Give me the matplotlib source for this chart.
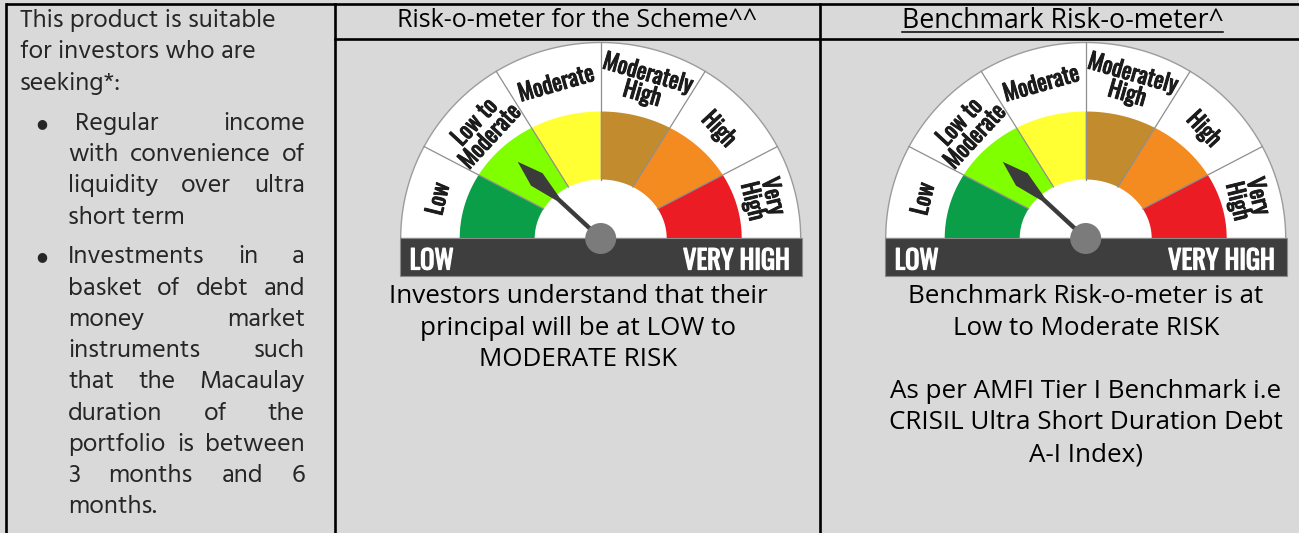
import numpy as np
import matplotlib
matplotlib.use("Agg")
import matplotlib.pyplot as plt
import matplotlib.patheffects as pe
from matplotlib.patches import Polygon, Circle, Rectangle

# ---------------- data ----------------
risk_levels = ["Low", "Low to Moderate", "Moderate", "Moderately High", "High", "Very High"]
risk_labels = ["Low", "Low to\nModerate", "Moderate", "Moderately\nHigh", "High", "Very\nHigh"]
segment_edges_deg = [180.0, 152.5, 122.0, 90.0, 58.0, 27.5, 0.0]
segment_colors = ["#0b9e48", "#80ff00", "#ffff33", "#c28b2e", "#f38b20", "#ec1c24"]
scheme_risk = "Low to Moderate"
benchmark_risk = "Low to Moderate"
scale_labels = ["LOW", "VERY HIGH"]

intro_lines = ["This product is suitable", "for investors who are", "seeking*:"]
bullet1_lines = [" Regular income", "with convenience of", "liquidity over ultra", "short term"]
bullet2_lines = ["Investments in a", "basket of debt and", "money market",
                 "instruments such", "that the Macaulay", "duration of the",
                 "portfolio is between", "3 months and 6", "months."]
scheme_header = "Risk-o-meter for the Scheme^^"
bench_header = "Benchmark Risk-o-meter^"
scheme_caption = ["Investors understand that their", "principal will be at LOW to", "MODERATE RISK"]
bench_caption = ["Benchmark Risk-o-meter is at", "Low to Moderate RISK", "",
                 "As per AMFI Tier I Benchmark i.e", "CRISIL Ultra Short Duration Debt",
                 "A-I Index)"]

# ---------------- figure ----------------
W, H = 1299, 533
BG = "#d9d9d9"
fig = plt.figure(figsize=(W / 100, H / 100), dpi=100)
fig.patch.set_facecolor(BG)
ax = fig.add_axes([0, 0, 1, 1])
ax.set_xlim(0, W)
ax.set_ylim(H, 0)
ax.axis("off")

NARROW = ["Oswald", "DejaVu Sans"]
LIGHT = ["Hind", "DejaVu Sans"]
BODY = ["Open Sans", "DejaVu Sans"]
LEFT_FS = 18.7
BODY_FS = 18.7

# table grid
LW = 1.9
ax.plot([6, W], [4, 4], color="black", lw=LW, solid_capstyle="butt")
ax.plot([6, 6], [4, H], color="black", lw=LW)
ax.plot([335, 335], [4, H], color="black", lw=LW)
ax.plot([820, 820], [4, H], color="black", lw=LW)
ax.plot([335, W], [38.5, 38.5], color="black", lw=LW)


def ell_r(a, b, t):
    return a * b / np.sqrt((b * np.cos(t)) ** 2 + (a * np.sin(t)) ** 2)


def pts(cx, cy, a, b, thetas):
    r = ell_r(a, b, thetas)
    return np.column_stack([cx + r * np.cos(thetas), cy - r * np.sin(thetas)])


def gauge(cx, cy, level):
    th = np.radians(np.linspace(0, 180, 200))
    outer = pts(cx, cy, 200, 196, th)
    ax.add_patch(Polygon(np.vstack([outer, [[cx - 200, cy], [cx + 200, cy]]]),
                         closed=True, facecolor="white", edgecolor="#9c9c9c",
                         lw=1.0, zorder=1))
    for i, col in enumerate(segment_colors):
        t = np.radians(np.linspace(segment_edges_deg[i], segment_edges_deg[i + 1], 60))
        o = pts(cx, cy, 141, 127, t)
        inn = pts(cx, cy, 66, 59, t[::-1])
        ax.add_patch(Polygon(np.vstack([o, inn]), closed=True, facecolor=col,
                             edgecolor="none", zorder=2))
    for e in segment_edges_deg[1:-1]:
        t = np.radians(e)
        r0 = ell_r(66, 59, t)
        r1 = ell_r(200, 196, t)
        ax.plot([cx + r0 * np.cos(t), cx + r1 * np.cos(t)],
                [cy - r0 * np.sin(t), cy - r1 * np.sin(t)],
                color="#8e8e8e", lw=0.9, zorder=3)
    lab_col = "#1c1c1c"
    for i, lab in enumerate(risk_labels):
        m = 0.5 * (segment_edges_deg[i] + segment_edges_deg[i + 1])
        t = np.radians(m)
        r = 167 if i in (0, 5) else 161
        ax.text(cx + r * np.cos(t), cy - r * np.sin(t), lab, rotation=m - 90,
                ha="center", va="center", rotation_mode="anchor",
                fontsize=16.5, family=NARROW, color=lab_col,
                linespacing=0.9, zorder=4,
                path_effects=[pe.withStroke(linewidth=0.7, foreground=lab_col)])
    ax.add_patch(Rectangle((cx - 201, 237.5), 402, 38.5, facecolor="#3e3e3e",
                           edgecolor="#8a8a8a", lw=0.8, zorder=5))
    for s, x, ha in ((scale_labels[0], cx - 191, "left"), (scale_labels[1], cx + 189, "right")):
        ax.text(x, 269.5, s, ha=ha, va="baseline", fontsize=19, family=NARROW,
                color="white", zorder=6,
                path_effects=[pe.withStroke(linewidth=0.9, foreground="white")])
    k = risk_levels.index(level)
    ang = np.radians(0.5 * (segment_edges_deg[k] + segment_edges_deg[k + 1]))
    u = np.array([np.cos(ang), -np.sin(ang)])
    v = np.array([np.sin(ang), np.cos(ang)])
    c = np.array([cx, cy])
    prof = [(0, 2.2), (58, 2.2), (87, 8.5), (113, 0), (87, -8.5), (58, -2.2), (0, -2.2)]
    needle = np.array([c + L * u + w * v for L, w in prof])
    ax.add_patch(Polygon(needle, closed=True, facecolor="#3b3b3b",
                         edgecolor="none", zorder=7))
    ax.add_patch(Circle((cx, cy), 15.5, facecolor="#7b7b7b", edgecolor="none", zorder=8))


gauge(600.7, 238.5, scheme_risk)
gauge(1085.7, 238.5, benchmark_risk)

# ---------------- left column text ----------------
TXT = "#262626"
for i, s in enumerate(intro_lines):
    ax.text(20, 26.7 + 31.7 * i, s, ha="left", va="baseline", fontsize=LEFT_FS,
            family=LIGHT, color=TXT)

fig.canvas.draw()
renderer = fig.canvas.get_renderer()


def justified(lines, x0, x1, y0, dy):
    for i, line in enumerate(lines):
        y = y0 + dy * i
        words = line.split()
        lead = 7 if line.startswith(" ") else 0
        if i == len(lines) - 1 or len(words) == 1:
            ax.text(x0 + lead, y, line.strip(), ha="left", va="baseline", fontsize=LEFT_FS,
                    family=LIGHT, color=TXT)
            continue
        ts = [ax.text(0, y, w, ha="left", va="baseline", fontsize=LEFT_FS,
                      family=LIGHT, color=TXT) for w in words]
        ws = [t.get_window_extent(renderer).width for t in ts]
        gap = (x1 - x0 - lead - sum(ws)) / (len(words) - 1)
        x = x0 + lead
        for t, w in zip(ts, ws):
            t.set_x(x)
            x += w + gap


for y in (130 - 6.5, 263.3 - 6.5):
    ax.text(42, y, "\u25CF", ha="center", va="center", fontsize=9,
            family="DejaVu Sans", color=TXT)
justified(bullet1_lines, 68, 305, 130, 31.2)
justified(bullet2_lines, 68, 305, 263.3, 31.25)

# ---------------- headers ----------------
ax.text(577.5, 27, scheme_header, ha="center", va="baseline", fontsize=18.0,
        family=BODY, color="black")
hb = ax.text(1062.5, 28, bench_header, ha="center", va="baseline", fontsize=19.2,
             family=BODY, color="black")
bb = hb.get_window_extent(renderer)
ax.plot([bb.x0, bb.x1], [31.8, 31.8], color="black", lw=1.1)

# ---------------- captions ----------------
for i, s in enumerate(scheme_caption):
    ax.text(578, 303 + 31.6 * i, s, ha="center", va="baseline", fontsize=BODY_FS,
            family=BODY, color="black")
for i, s in enumerate(bench_caption):
    if s:
        ax.text(1086, 303 + 31.6 * i, s, ha="center", va="baseline", fontsize=BODY_FS,
                family=BODY, color="black")

fig.savefig("out.png", dpi=100, facecolor=BG)
